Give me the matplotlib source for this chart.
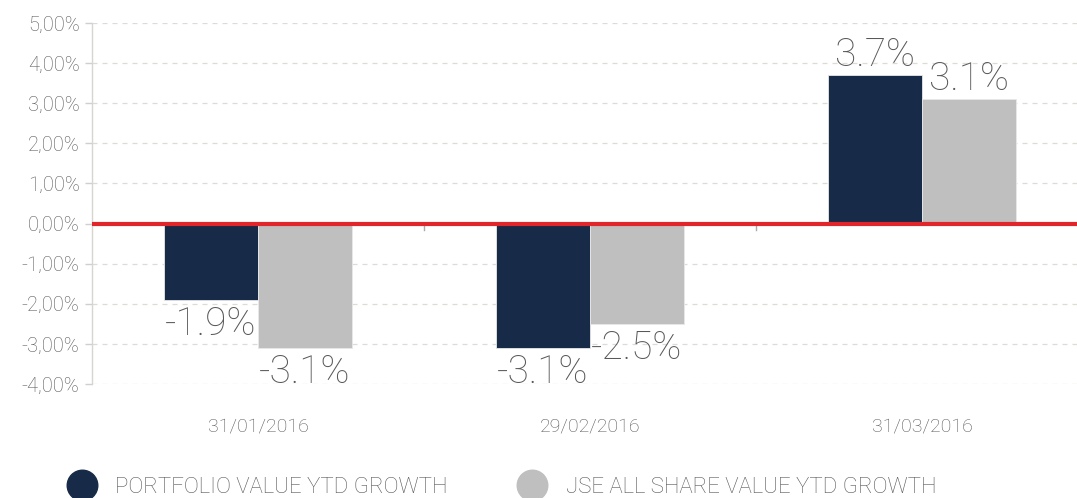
import numpy as np
import matplotlib.pyplot as plt
from matplotlib.lines import Line2D

# DATA
dates = ['31/01/2016', '29/02/2016', '31/03/2016']
portfolio = [-1.9, -3.1, 3.7]
jse = [-3.1, -2.5, 3.1]
series_names = ['PORTFOLIO VALUE YTD GROWTH', 'JSE ALL SHARE VALUE YTD GROWTH']
yticks = [5, 4, 3, 2, 1, 0, -1, -2, -3, -4]

# STYLE
NAVY = '#172a47'
GREY = '#bfbfbf'
RED = '#e0262b'
TEXT = '#585858'
plt.rcParams['font.family'] = ['Roboto', 'DejaVu Sans']

fig = plt.figure(figsize=(10.77, 4.98), dpi=100)
ax = fig.add_axes([92/1077, 1 - 384/498, 1 - 92/1077, (384 - 23)/498])

x = np.arange(len(dates))
w = 0.283
b1 = ax.bar(x - w/2, portfolio, width=w, color=NAVY, edgecolor='#e8e8e8', linewidth=0.6, zorder=3)
b2 = ax.bar(x + w/2, jse, width=w, color=GREY, edgecolor='#e8e8e8', linewidth=0.6, zorder=3)

# value labels
for bars, vals in [(b1, portfolio), (b2, jse)]:
    for r, v in zip(bars, vals):
        cx = r.get_x() + r.get_width()/2
        if v >= 0:
            ax.text(cx, v + 0.02, f'{v:.1f}%', ha='center', va='bottom',
                    fontsize=28, color=TEXT, fontweight='light', zorder=5)
        else:
            ax.text(cx, v - 0.15, f'{v:.1f}%', ha='center', va='top',
                    fontsize=28, color=TEXT, fontweight='light', zorder=5)

# zero line and boundary marks
ax.axhline(0, color=RED, linewidth=3, zorder=4)
for b in x[:-1] + 0.5:
    ax.plot([b, b], [-0.05, -0.15], color='#aaaaaa', linewidth=1, zorder=2)

ax.set_xlim(-0.5, 2.5 - 11/332)
ax.set_ylim(-4, 5)
ax.set_yticks(yticks)
ax.set_yticklabels([f'{t:.2f}%'.replace('.', ',') for t in yticks])
ax.yaxis.grid(True, linestyle=(0, (4, 4)), color='#dcdcd6', linewidth=0.9, zorder=0)

ax.set_xticks(x)
ax.set_xticklabels(dates)
ax.tick_params(axis='x', length=0, pad=24, labelsize=14, labelcolor=TEXT)
ax.tick_params(axis='y', length=5, width=1, color='#cfcfcf', pad=4, labelsize=14.5, labelcolor=TEXT)
for lbl in ax.get_xticklabels() + ax.get_yticklabels():
    lbl.set_fontweight('light')

for s in ['top', 'right', 'bottom']:
    ax.spines[s].set_visible(False)
ax.spines['left'].set_color('#d6d6d0')
ax.spines['left'].set_linewidth(1)

# legend
handles = [Line2D([], [], marker='o', linestyle='', markersize=22, color=c) for c in (NAVY, GREY)]
leg = fig.legend(handles, series_names, loc='center left', bbox_to_anchor=(0.037, 0.022),
                 ncol=2, frameon=False, handletextpad=0.5, columnspacing=2.8,
                 labelcolor=TEXT, prop={'weight': 'light', 'size': 16})

fig.savefig('out.png', dpi=100)
